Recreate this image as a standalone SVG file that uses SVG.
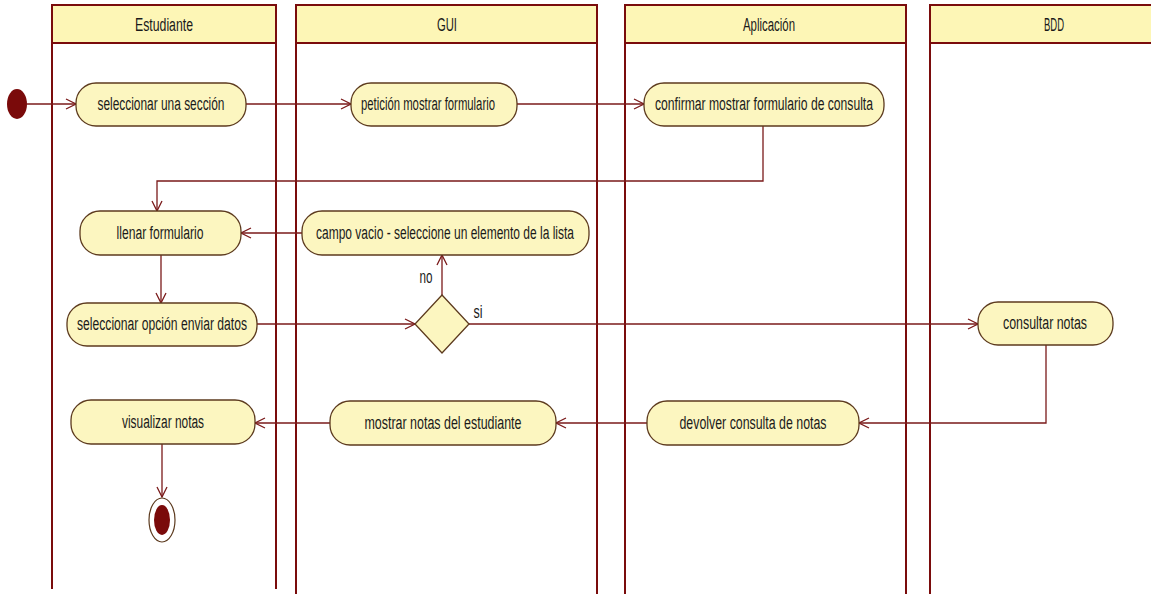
<svg xmlns="http://www.w3.org/2000/svg" width="1151" height="597" viewBox="0 0 1151 597">
<defs>
<style>
.lane{fill:none;stroke:#7a0c0c;stroke-width:2}
.hdr{fill:#fdf6b6;stroke:#7a0c0c;stroke-width:2}
.node{fill:#fcf6c0;stroke:#5c3a1e;stroke-width:1.3}
.t{font-family:"Liberation Sans",Arial,sans-serif;font-size:18px;fill:#1a1a1a;text-anchor:middle}
.c{fill:none;stroke:#7a1a1a;stroke-width:1.3}
</style>
<marker id="ah" viewBox="0 0 12 12" refX="11" refY="6" markerWidth="12" markerHeight="12" markerUnits="userSpaceOnUse" orient="auto">
<path d="M1,1 L11,6 L1,11" fill="none" stroke="#7a1a1a" stroke-width="1.3"/>
</marker>
</defs>
<rect width="1151" height="597" fill="#ffffff"/>
<g id="lane-estudiante">
<rect class="hdr" x="52" y="5" width="224" height="38"/>
<line class="lane" x1="52" y1="43" x2="52" y2="589"/>
<line class="lane" x1="276" y1="43" x2="276" y2="589"/>
<text class="t" x="164" y="31" textLength="58" lengthAdjust="spacingAndGlyphs">Estudiante</text>
</g>
<g id="lane-gui">
<rect class="hdr" x="296" y="5" width="301" height="38"/>
<line class="lane" x1="296" y1="43" x2="296" y2="594"/>
<line class="lane" x1="597" y1="43" x2="597" y2="594"/>
<text class="t" x="447" y="31" textLength="20" lengthAdjust="spacingAndGlyphs">GUI</text>
</g>
<g id="lane-aplicacion">
<rect class="hdr" x="625" y="5" width="281" height="38"/>
<line class="lane" x1="625" y1="43" x2="625" y2="594"/>
<line class="lane" x1="906" y1="43" x2="906" y2="594"/>
<text class="t" x="769" y="31" textLength="52" lengthAdjust="spacingAndGlyphs">Aplicación</text>
</g>
<g id="lane-bdd">
<rect class="hdr" x="930" y="5" width="230" height="38"/>
<line class="lane" x1="930" y1="43" x2="930" y2="594"/>
<text class="t" x="1054" y="31" textLength="20" lengthAdjust="spacingAndGlyphs">BDD</text>
</g>
<g id="connectors">
<line class="c" x1="27" y1="104" x2="76" y2="104" marker-end="url(#ah)"/>
<line class="c" x1="246" y1="104" x2="351" y2="104" marker-end="url(#ah)"/>
<line class="c" x1="517" y1="104" x2="644" y2="104" marker-end="url(#ah)"/>
<polyline class="c" points="763,126 763,181 157,181 157,211" marker-end="url(#ah)"/>
<line class="c" x1="302" y1="233" x2="241" y2="233" marker-end="url(#ah)"/>
<line class="c" x1="161" y1="255" x2="161" y2="303" marker-end="url(#ah)"/>
<line class="c" x1="257" y1="324" x2="415" y2="324" marker-end="url(#ah)"/>
<line class="c" x1="442" y1="295" x2="442" y2="255" marker-end="url(#ah)"/>
<line class="c" x1="469" y1="324" x2="978" y2="324" marker-end="url(#ah)"/>
<polyline class="c" points="1046,345 1046,423 859,423" marker-end="url(#ah)"/>
<line class="c" x1="647" y1="423" x2="556" y2="423" marker-end="url(#ah)"/>
<line class="c" x1="330" y1="423" x2="255" y2="423" marker-end="url(#ah)"/>
<line class="c" x1="162" y1="444" x2="162" y2="497" marker-end="url(#ah)"/>
<text class="t" x="426" y="283" textLength="13" lengthAdjust="spacingAndGlyphs">no</text>
<text class="t" x="478" y="318" textLength="9" lengthAdjust="spacingAndGlyphs">si</text>
</g>
<g id="initial">
<ellipse cx="17" cy="104" rx="10" ry="15" fill="#7a0a0a"/>
</g>
<g id="n-seleccionar-seccion">
<rect class="node" x="76" y="83" width="170" height="43" rx="20"/>
<text class="t" x="161" y="110" textLength="127" lengthAdjust="spacingAndGlyphs">seleccionar una sección</text>
</g>
<g id="n-peticion">
<rect class="node" x="351" y="83" width="166" height="43" rx="20"/>
<text class="t" x="428" y="110" textLength="134" lengthAdjust="spacingAndGlyphs">petición mostrar formulario</text>
</g>
<g id="n-confirmar">
<rect class="node" x="644" y="83" width="240" height="43" rx="20"/>
<text class="t" x="764" y="110" textLength="218" lengthAdjust="spacingAndGlyphs">confirmar mostrar formulario de consulta</text>
</g>
<g id="n-llenar">
<rect class="node" x="80" y="211" width="161" height="44" rx="20"/>
<text class="t" x="160" y="239" textLength="87" lengthAdjust="spacingAndGlyphs">llenar formulario</text>
</g>
<g id="n-campo-vacio">
<rect class="node" x="302" y="211" width="287" height="44" rx="20"/>
<text class="t" x="445" y="239" textLength="258" lengthAdjust="spacingAndGlyphs">campo vacio - seleccione un elemento de la lista</text>
</g>
<g id="n-seleccionar-opcion">
<rect class="node" x="67" y="303" width="190" height="43" rx="20"/>
<text class="t" x="162" y="330" textLength="170" lengthAdjust="spacingAndGlyphs">seleccionar opción enviar datos</text>
</g>
<g id="decision">
<polygon class="node" points="442,295 469,324 442,353 415,324"/>
</g>
<g id="n-consultar">
<rect class="node" x="978" y="302" width="135" height="43" rx="20"/>
<text class="t" x="1045" y="329" textLength="84" lengthAdjust="spacingAndGlyphs">consultar notas</text>
</g>
<g id="n-devolver">
<rect class="node" x="647" y="401" width="212" height="44" rx="20"/>
<text class="t" x="753" y="429" textLength="147" lengthAdjust="spacingAndGlyphs">devolver consulta de notas</text>
</g>
<g id="n-mostrar">
<rect class="node" x="330" y="401" width="226" height="44" rx="20"/>
<text class="t" x="443" y="429" textLength="157" lengthAdjust="spacingAndGlyphs">mostrar notas del estudiante</text>
</g>
<g id="n-visualizar">
<rect class="node" x="71" y="400" width="184" height="44" rx="20"/>
<text class="t" x="163" y="428" textLength="82" lengthAdjust="spacingAndGlyphs">visualizar notas</text>
</g>
<g id="final">
<ellipse cx="162" cy="520" rx="13" ry="22" fill="#ffffff" stroke="#5c3a1e" stroke-width="1.2"/>
<ellipse cx="162" cy="520" rx="8" ry="15" fill="#7a0a0a"/>
</g>
</svg>
